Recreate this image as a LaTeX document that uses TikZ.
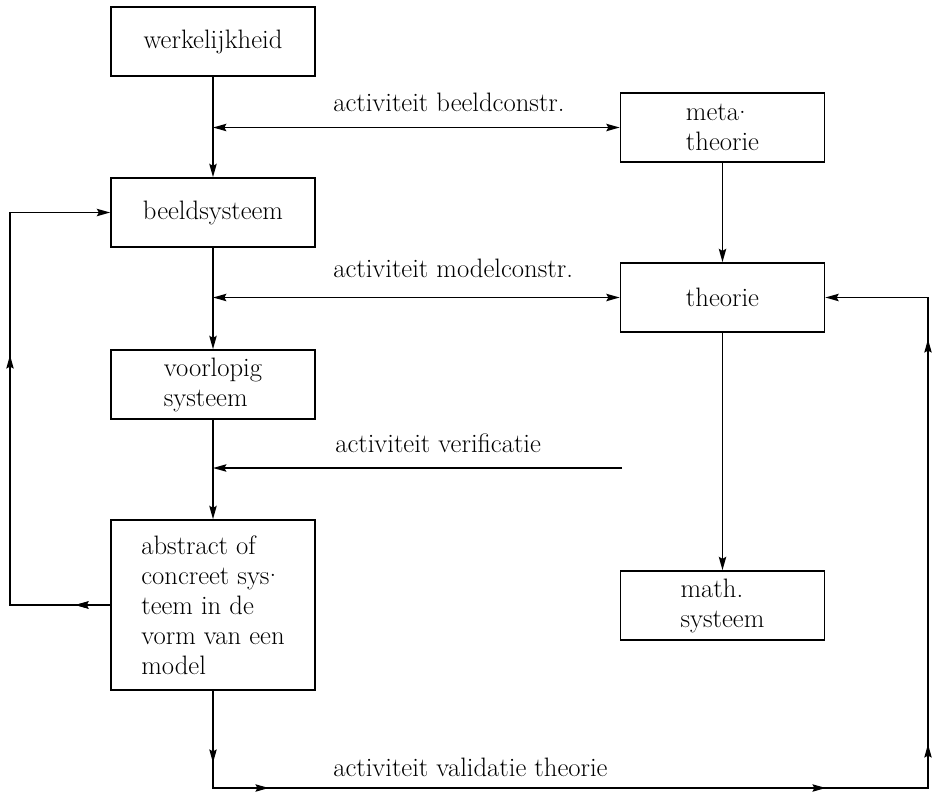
\documentclass[tikz,border=0pt]{standalone}
\usetikzlibrary{arrows.meta,decorations.markings}
\newcommand{\mdot}{\raisebox{0.28em}{.}}
\begin{document}
\begin{tikzpicture}[x=0.75pt,y=-0.75pt,
  >={Stealth[length=10pt,width=5.5pt,inset=1.5pt]},
  conn/.style={line width=1.2pt},
  box/.style={draw,line width=1.2pt,minimum width=153pt,minimum height=51.75pt,
    align=left,inner sep=0pt,font=\fontsize{20pt}{22.5pt}\selectfont},
  lbl/.style={anchor=base west,inner sep=0pt,font=\fontsize{20pt}{22.5pt}\selectfont},
  midarrow/.style={postaction={decorate},decoration={markings,mark=at position #1 with {\arrow{>}}}}
]
\useasboundingbox (0,0) rectangle (933,793);

% boxes
\node[box] (werk) at (213,41.5) {werkelijkheid};
\node[box] (beeld) at (213,212.5) {beeldsysteem};
\node[box] (voorl) at (213,384.5) {voorlopig\\systeem};
\node[box,minimum height=127.5pt] (abstr) at (213,605) {abstract of\\concreet sys\mdot\\teem in de\\vorm van een\\model};
\node[box] (meta) at (722.5,127.5) {meta\mdot\\theorie};
\node[box] (theo) at (722.5,297.5) {theorie};
\node[box] (math) at (722.5,605.5) {math.\\systeem};

% labels
\node[lbl] (l1) at (333,111) {activiteit beeldconstr.};
\node[lbl] (l2) at (333,277) {activiteit modelconstr.};
\node[lbl] (l3) at (335,452) {activiteit verificatie};
\node[lbl] (l4) at (333,776) {activiteit validatie theorie};

% junction coordinates
\coordinate (j1) at (werk.south |- meta.west);
\coordinate (j2) at (beeld.south |- theo.west);
\coordinate (vend) at (622,468);
\coordinate (j3) at (voorl.south |- vend);
\coordinate (ll) at (10,605);
\coordinate (lu) at (10,212.5);
\coordinate (bl) at (213,788);
\coordinate (br) at (928,788);
\coordinate (rc) at (928,297.5);

% main vertical flow
\draw[conn,->] (werk.south) -- (beeld.north);
\draw[conn,->] (beeld.south) -- (voorl.north);
\draw[conn,->] (voorl.south) -- (abstr.north);
\draw[conn,->] (meta.south) -- (theo.north);
\draw[conn,->] (theo.south) -- (math.north);

% horizontal activities
\draw[conn,<->] (j1) -- (meta.west);
\draw[conn,<->] (j2) -- (theo.west);
\draw[conn,->] (vend) -- (j3);

% left feedback loop
\draw[conn,->,midarrow=26.25pt,postaction={decorate,decoration={markings,mark=at position 262.5pt with {\arrow{>}}}}]
  (abstr.west |- ll) -- (ll) -- (lu) -- (beeld.west);

% validation loop
\draw[conn,->,
  postaction={decorate,decoration={markings,
    mark=at position 54pt with {\arrow{>}},
    mark=at position 114.75pt with {\arrow{>}},
    mark=at position 532.5pt with {\arrow{>}},
    mark=at position 642pt with {\arrow{>}},
    mark=at position 945.75pt with {\arrow{>}}}}]
  (abstr.south) -- (bl) -- (br) -- (rc) -- (theo.east);
\end{tikzpicture}
\end{document}
